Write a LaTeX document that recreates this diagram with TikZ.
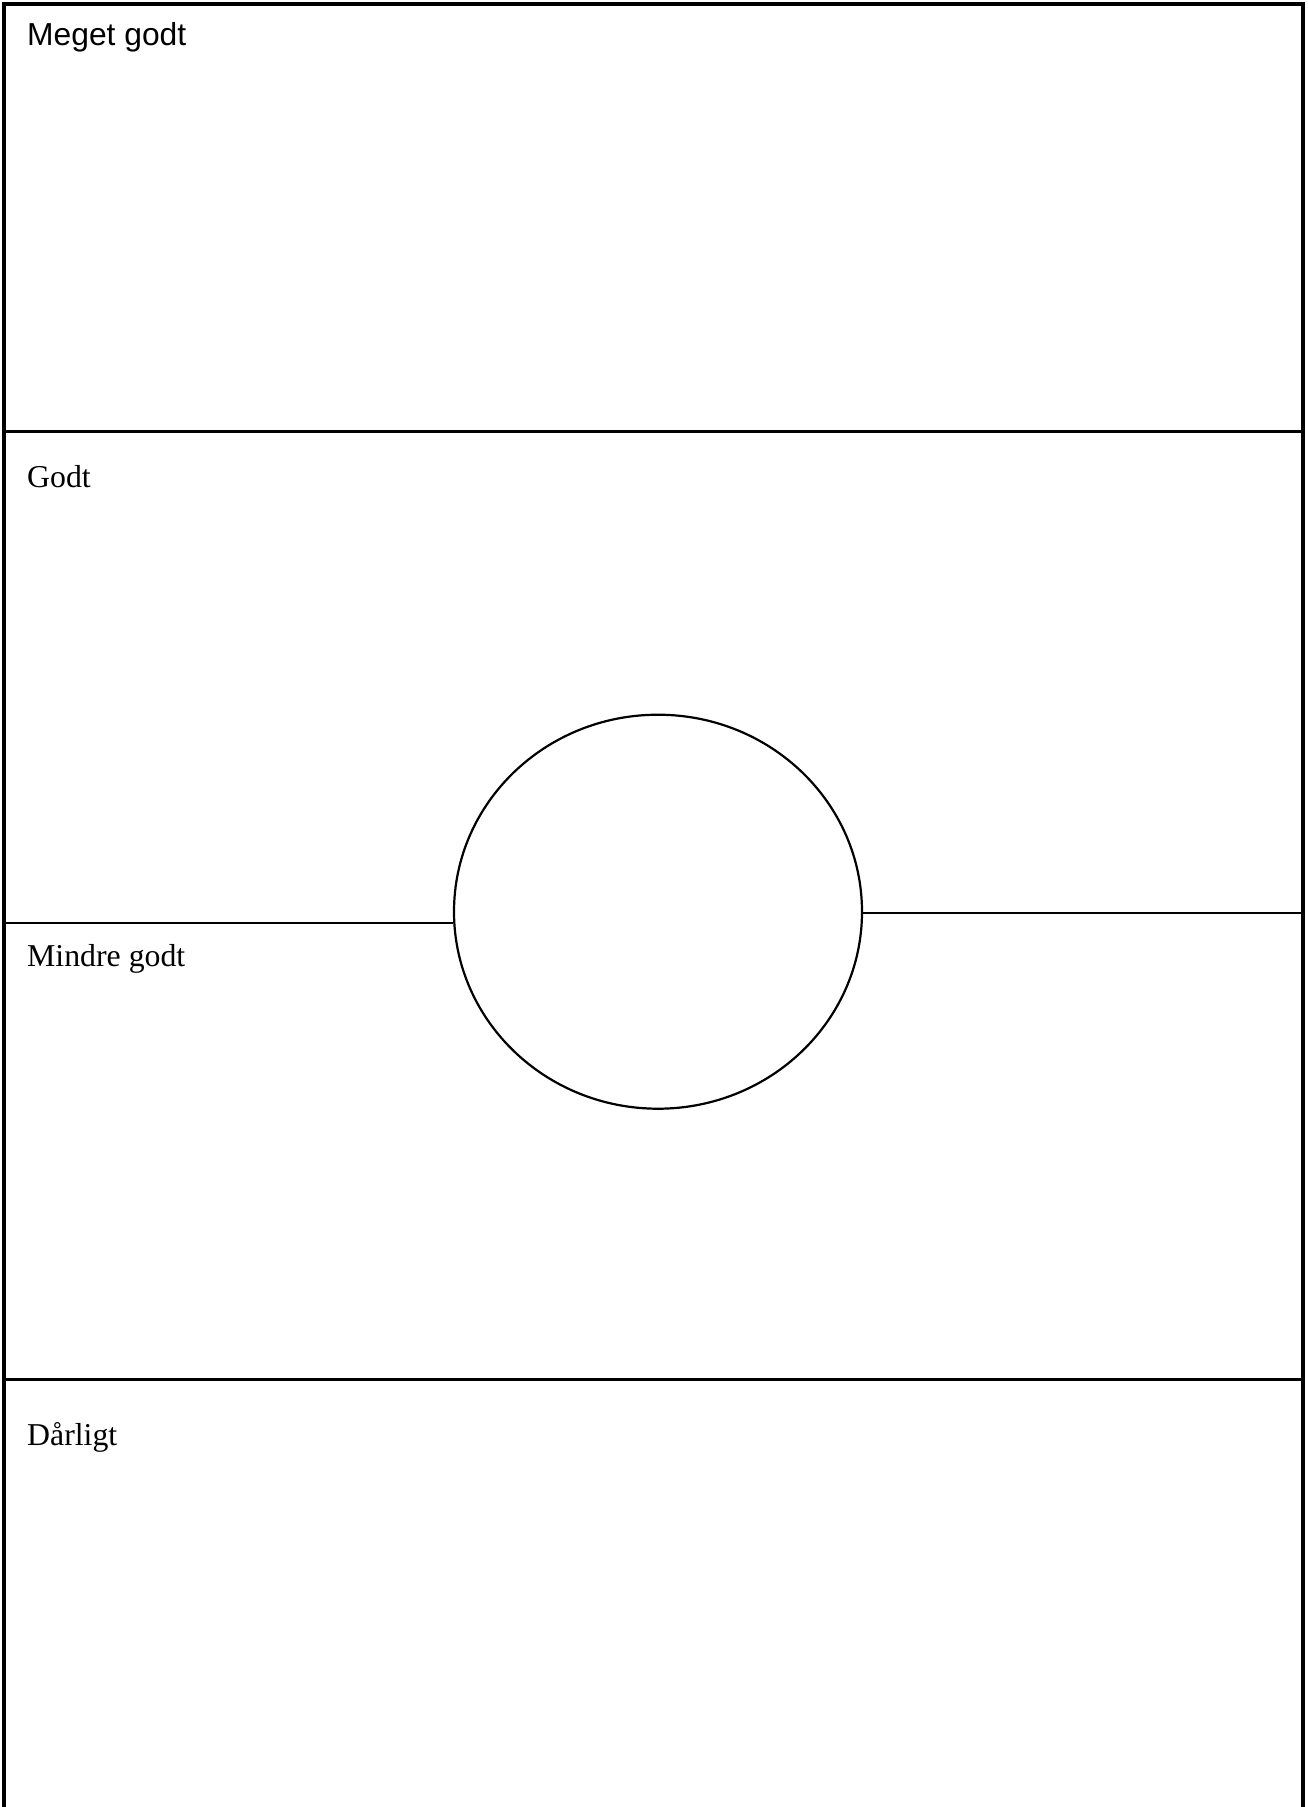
\documentclass[tikz,border=0pt]{standalone}
\usepackage{fontspec}
\setmainfont{Liberation Serif}
\newfontfamily\arialfont{Liberation Sans}
\usetikzlibrary{shapes.geometric}
\begin{document}
\begin{tikzpicture}[x=1pt,y=-1pt,
  frameline/.style={line width=4.5pt,line join=miter},
  rowline/.style={line width=3pt},
  midline/.style={line width=2.2pt},
  label/.style={anchor=base west,inner sep=0pt,font=\fontsize{31.8}{36}\selectfont},
  ring/.style={draw,ellipse,line width=2.2pt,inner sep=0pt,minimum width=408pt,minimum height=394pt}]
\useasboundingbox (0,0) rectangle (1307,1807);
\coordinate (bl) at (4,1810);
\coordinate (tl) at (4,4);
\coordinate (tr) at (1303,4);
\coordinate (br) at (1303,1810);
\draw[frameline] (bl) -- (tl) -- (tr) -- (br);
\coordinate (r1l) at (4,431.5);
\coordinate (r1r) at (1303,431.5);
\draw[rowline] (r1l) -- (r1r);
\coordinate (r2l) at (4,1379);
\coordinate (r2r) at (1303,1379);
\draw[rowline] (r2l) -- (r2r);
\node[ring] (c) at (658,911.7) {};
\coordinate (ml) at (4,922.7);
\coordinate (mr) at (1303,912.7);
\draw[midline] (ml) -- (ml -| c.west);
\draw[midline] (c.east |- mr) -- (mr);
\node[label,font=\arialfont\fontsize{31.8}{36}\selectfont] (t1) at (27,45.7) {Meget godt};
\node[label] (t2) at (27,487.3) {Godt};
\node[label] (t3) at (27,966) {Mindre godt};
\node[label] (t4) at (27,1445) {Dårligt};
\end{tikzpicture}
\end{document}
